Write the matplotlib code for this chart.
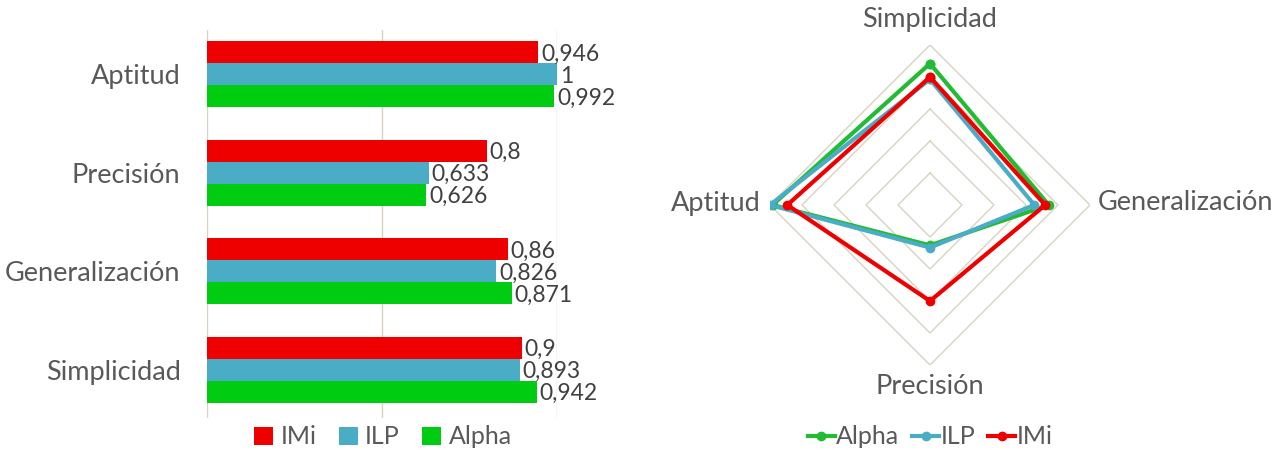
import matplotlib.pyplot as plt
import numpy as np

plt.rcParams['font.family'] = ['Lato', 'DejaVu Sans']

# datos
categorias = ['Aptitud', 'Precisión', 'Generalización', 'Simplicidad']
series = ['IMi', 'ILP', 'Alpha']
imi = [0.946, 0.8, 0.86, 0.9]
ilp = [1.0, 0.633, 0.826, 0.893]
alpha = [0.992, 0.626, 0.871, 0.942]

# radar: orden horario desde arriba
radar_cat = ['Simplicidad', 'Generalización', 'Precisión', 'Aptitud']

rojo = '#ee0000'
azul = '#4bacc6'
verde = '#00cc11'
gris_txt = '#595959'
grid_col = '#d8d2c2'

fig = plt.figure(figsize=(12.88, 4.5), dpi=100)

# ---- barras ----
ax = fig.add_axes([207/1288, 1-418/450, 350/1288, 388/450])
y = np.arange(len(categorias))
h = 0.223
vals = [imi, ilp, alpha]
cols = [rojo, azul, verde]
for k in range(3):
    yy = y + (k-1)*h
    ax.barh(yy, vals[k], height=h, color=cols[k], label=series[k])
    for j in range(len(categorias)):
        v = vals[k][j]
        txt = ('%g' % v).replace('.', ',')
        ax.text(v+0.008, yy[j]+0.02, txt, va='center', ha='left', fontsize=16.5, color='#404040')
ax.set_xlim(0, 1)
ax.set_ylim(3.49, -0.45)
ax.set_yticks(y)
ax.set_yticklabels(categorias, fontsize=19.5, color=gris_txt)
ax.tick_params(axis='y', length=0, pad=19)
ax.set_xticks([0, 0.5, 1.0])
ax.tick_params(axis='x', length=0, labelbottom=False)
ax.grid(axis='x', color=grid_col, linewidth=1)
ax.set_axisbelow(True)
for s in ax.spines.values():
    s.set_visible(False)
ax.legend(loc='center', bbox_to_anchor=(383/1288, 1-437/450), bbox_transform=fig.transFigure,
          ncol=3, frameon=False, fontsize=18, handlelength=0.75, handleheight=0.75,
          handletextpad=0.3, columnspacing=0.9, labelcolor=gris_txt)

# ---- radar ----
ang = np.pi/2 - np.arange(4)*np.pi/2
ang_c = np.append(ang, ang[0])
rax = fig.add_axes([770/1288, 1-365/450, 320/1288, 320/450], projection='polar')
rax.set_ylim(0.5, 1.0)
rax.grid(False)
rax.spines['polar'].set_visible(False)
rax.set_xticks([])
rax.set_yticks([])
for r in [0.6, 0.7, 0.8, 0.9, 1.0]:
    rax.plot(ang_c, [r]*5, color=grid_col, linewidth=1)

def radar_vals(v):
    d = dict(zip(categorias, v))
    out = [d[c] for c in radar_cat]
    return out + [out[0]]

for nombre, v, c in [('Alpha', alpha, '#22bb33'), ('ILP', ilp, azul), ('IMi', imi, rojo)]:
    rax.plot(ang_c, radar_vals(v), color=c, linewidth=3, marker='o', markersize=6, label=nombre)

fig.text(930/1288, 1-20/450, 'Simplicidad', ha='center', va='center', fontsize=19.5, color=gris_txt)
fig.text(1098/1288, 1-203/450, 'Generalización', ha='left', va='center', fontsize=19.5, color=gris_txt)
fig.text(761/1288, 1-203/450, 'Aptitud', ha='right', va='center', fontsize=19.5, color=gris_txt)
fig.text(930/1288, 1-387/450, 'Precisión', ha='center', va='center', fontsize=19.5, color=gris_txt)

rax.legend(loc='center', bbox_to_anchor=(930/1288, 1-437/450), bbox_transform=fig.transFigure,
           ncol=3, frameon=False, fontsize=18, handlelength=1.1, handletextpad=0.05,
           columnspacing=0.5, labelcolor=gris_txt)

fig.savefig('out.png', dpi=100)
